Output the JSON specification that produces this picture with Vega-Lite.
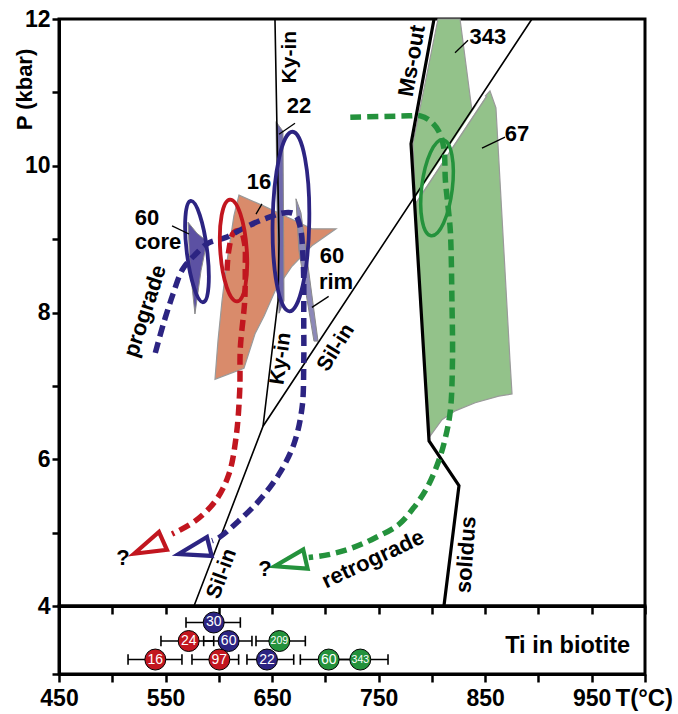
{
  "$schema": "https://vega.github.io/schema/vega-lite/v6.json",
  "padding": {"left": 11, "top": 6, "right": 2, "bottom": 2},
  "spacing": 0,
  "bounds": "flush",
  "datasets": {
    "greenPoly": [
      {"i":1,"T":805.7,"P":12},{"i":2,"T":826.4,"P":12},{"i":3,"T":837.6,"P":10.75},{"i":4,"T":854.5,"P":11.02},
      {"i":5,"T":860.1,"P":10.79},{"i":6,"T":873.3,"P":7.34},{"i":7,"T":875.2,"P":6.89},{"i":8,"T":862.7,"P":6.86},
      {"i":9,"T":840.7,"P":6.77},{"i":10,"T":821.9,"P":6.66},{"i":11,"T":809.5,"P":6.54},{"i":12,"T":798.5,"P":6.32},
      {"i":13,"T":788.8,"P":8.16},{"i":14,"T":782.2,"P":10.30}
    ],
    "edge67": [
      {"i":1,"T":782.2,"P":9.479},{"i":2,"T":849.3,"P":10.951}
    ],
    "edge67grey": [
      {"i":1,"T":784.6,"P":9.479},{"i":2,"T":851.7,"P":10.951}
    ],
    "orangePoly": [
      {"i":1,"T":618.9,"P":9.60},{"i":2,"T":642.4,"P":9.45},{"i":3,"T":668.7,"P":9.27},{"i":4,"T":687.4,"P":9.14},
      {"i":5,"T":710.0,"P":9.14},{"i":6,"T":687.4,"P":8.91},{"i":7,"T":668.7,"P":8.63},{"i":8,"T":652.7,"P":8.29},
      {"i":9,"T":642.4,"P":7.95},{"i":10,"T":634.0,"P":7.71},{"i":11,"T":623.6,"P":7.24},{"i":12,"T":596.4,"P":7.09},
      {"i":13,"T":599.2,"P":7.61},{"i":14,"T":603.0,"P":8.16},{"i":15,"T":607.7,"P":8.70},{"i":16,"T":614.2,"P":9.32}
    ],
    "purpleCore": [
      {"i":1,"T":571.1,"P":9.23},{"i":2,"T":579.5,"P":9.08},{"i":3,"T":588.9,"P":8.97},{"i":4,"T":583.3,"P":8.57},
      {"i":5,"T":577.6,"P":7.98},{"i":6,"T":572.9,"P":8.63}
    ],
    "purple22": [
      {"i":1,"T":653.7,"P":10.60},{"i":2,"T":660.2,"P":10.47},{"i":3,"T":661.2,"P":8.16},{"i":4,"T":656.5,"P":7.99},
      {"i":5,"T":654.6,"P":9.52}
    ],
    "purpleRim": [
      {"i":1,"T":672.4,"P":9.55},{"i":2,"T":677.1,"P":9.36},{"i":3,"T":693.1,"P":7.61},{"i":4,"T":689.3,"P":7.61},
      {"i":5,"T":675.2,"P":8.84}
    ],
    "lines": [
      {"line":"Ky-in","i":1,"T":652.7,"P":12},{"line":"Ky-in","i":2,"T":656.5,"P":8.97},{"line":"Ky-in","i":3,"T":655.6,"P":8.16},{"line":"Ky-in","i":4,"T":641.5,"P":6.45},
      {"line":"Sil-in","i":1,"T":576.7,"P":4},{"line":"Sil-in","i":2,"T":641.5,"P":6.45},{"line":"Sil-in","i":3,"T":893.9,"P":12},
      {"line":"Ms-out","i":1,"T":802.0,"P":12},{"line":"Ms-out","i":2,"T":780.4,"P":10.30},{"line":"Ms-out","i":3,"T":797.3,"P":6.25},{"line":"Ms-out","i":4,"T":825.4,"P":5.64},{"line":"Ms-out","i":5,"T":811.3,"P":4}
    ],
    "paths": [
      {"path":"16","i":1,"T":607.7,"P":8.57},{"path":"16","i":2,"T":609.3,"P":8.84},{"path":"16","i":3,"T":614.0,"P":9.09},{"path":"16","i":4,"T":620.2,"P":9.11},
      {"path":"16","i":5,"T":624.3,"P":8.93},{"path":"16","i":6,"T":624.8,"P":8.61},{"path":"16","i":7,"T":624.3,"P":8.16},{"path":"16","i":8,"T":620.2,"P":7.52},
      {"path":"16","i":9,"T":619.6,"P":6.93},{"path":"16","i":10,"T":616.1,"P":6.29},{"path":"16","i":11,"T":609.3,"P":5.79},{"path":"16","i":12,"T":596.7,"P":5.43},
      {"path":"16","i":13,"T":577.9,"P":5.16},{"path":"16","i":14,"T":556.1,"P":4.98},
      {"path":"60","i":1,"T":540.4,"P":7.45},{"path":"60","i":2,"T":548.3,"P":7.86},{"path":"60","i":3,"T":557.0,"P":8.25},{"path":"60","i":4,"T":566.1,"P":8.59},
      {"path":"60","i":5,"T":577.9,"P":8.79},{"path":"60","i":6,"T":590.5,"P":8.95},{"path":"60","i":7,"T":606.1,"P":9.02},{"path":"60","i":8,"T":624.8,"P":9.16},
      {"path":"60","i":9,"T":643.6,"P":9.28},{"path":"60","i":10,"T":662.4,"P":9.36},{"path":"60","i":11,"T":671.2,"P":9.34},{"path":"60","i":12,"T":676.5,"P":9.16},
      {"path":"60","i":13,"T":678.7,"P":8.84},{"path":"60","i":14,"T":679.7,"P":8.43},{"path":"60","i":15,"T":679.7,"P":7.93},{"path":"60","i":16,"T":679.7,"P":7.29},
      {"path":"60","i":17,"T":678.1,"P":6.70},{"path":"60","i":18,"T":670.3,"P":6.20},{"path":"60","i":19,"T":656.2,"P":5.79},{"path":"60","i":20,"T":637.4,"P":5.43},
      {"path":"60","i":21,"T":618.7,"P":5.16},{"path":"60","i":22,"T":599.9,"P":4.93},{"path":"60","i":23,"T":593.6,"P":4.89},
      {"path":"67","i":1,"T":723.4,"P":10.66},{"path":"67","i":2,"T":778.2,"P":10.68},{"path":"67","i":3,"T":789.1,"P":10.68},{"path":"67","i":4,"T":798.5,"P":10.61},
      {"path":"67","i":5,"T":806.4,"P":10.47},{"path":"67","i":6,"T":811.1,"P":10.25},{"path":"67","i":7,"T":812.7,"P":9.79},{"path":"67","i":8,"T":815.1,"P":9.45},
      {"path":"67","i":9,"T":817.3,"P":9.11},{"path":"67","i":10,"T":818.8,"P":8.16},{"path":"67","i":11,"T":819.3,"P":7.34},{"path":"67","i":12,"T":817.3,"P":6.66},
      {"path":"67","i":13,"T":812.6,"P":6.29},{"path":"67","i":14,"T":806.4,"P":5.98},{"path":"67","i":15,"T":795.4,"P":5.61},{"path":"67","i":16,"T":782.9,"P":5.34},
      {"path":"67","i":17,"T":768.8,"P":5.11},{"path":"67","i":18,"T":746.9,"P":4.93},{"path":"67","i":19,"T":725.0,"P":4.79},{"path":"67","i":20,"T":703.1,"P":4.70},
      {"path":"67","i":21,"T":684.4,"P":4.66}
    ],
    "leaders": [
      {"T":656.5,"P":10.43,"T2":671.5,"P2":10.58},
      {"T":634.9,"P":9.34,"T2":640.5,"P2":9.48},
      {"T":556.1,"P":9.18,"T2":572.0,"P2":9.07},
      {"T":687.4,"P":8.07,"T2":703.1,"P2":8.22},
      {"T":821.7,"P":11.54,"T2":833.9,"P2":11.71},
      {"T":847.0,"P":10.24,"T2":868.6,"P2":10.39}
    ],
    "labels": [
      {"label":"22","T":675.2,"P":10.81},
      {"label":"16","T":637.7,"P":9.78},
      {"label":"60","T":532.6,"P":9.29},
      {"label":"core","T":542.9,"P":8.96},
      {"label":"60","T":706.2,"P":8.77},
      {"label":"rim","T":710.0,"P":8.42},
      {"label":"343","T":852.6,"P":11.75},
      {"label":"67","T":879.8,"P":10.43},
      {"label":"?","T":510.1,"P":4.65},
      {"label":"?","T":643.3,"P":4.50}
    ],
    "ti": [
      {"s":"30","g":"blue","row":1,"T":595.2,"lo":569.2,"hi":620.2},
      {"s":"24","g":"red","row":2,"T":571.7,"lo":545.7,"hi":595.2},
      {"s":"60","g":"blue","row":2,"T":609.2,"lo":585.8,"hi":631.1},
      {"s":"209","g":"green","row":2,"T":656.8,"lo":634.9,"hi":681.2},
      {"s":"16","g":"red","row":3,"T":540.4,"lo":514.8,"hi":565.4},
      {"s":"97","g":"red","row":3,"T":600.5,"lo":574.8,"hi":618.6},
      {"s":"22","g":"blue","row":3,"T":645.2,"lo":626.4,"hi":670.3},
      {"s":"60","g":"green","row":3,"T":703.1,"lo":676.5,"hi":727.0},
      {"s":"343","g":"green","row":3,"T":732.8,"lo":708.0,"hi":758.8}
    ]
  },
  "vconcat": [
    {
      "width": 586,
      "height": 587,
      "encoding": {
        "x": {"field": "T", "type": "quantitative",
              "scale": {"domain": [450, 1000], "nice": false, "zero": false},
              "axis": {"values": [450,500,550,600,650,700,750,800,850,900,950,1000], "labels": false, "title": null, "tickSize": 8}},
        "y": {"field": "P", "type": "quantitative",
              "scale": {"domain": [4, 12], "nice": false, "zero": false},
              "axis": {"values": [4,5,6,7,8,9,10,11,12], "labelExpr": "datum.value % 2 === 0 ? datum.label : ''",
                       "title": "P (kbar)", "titleX": -35, "titleY": 70, "titleAngle": -90, "titleAlign": "center", "titleBaseline": "middle",
                       "tickSize": 7, "labelPadding": 2}}
      },
      "layer": [
        {"data": {"name": "greenPoly"}, "mark": {"type": "line", "interpolate": "linear-closed", "fill": "#93c28a", "stroke": "#9a9a9a", "strokeWidth": 1.2},
         "encoding": {"order": {"field": "i", "type": "quantitative"}}},
        {"data": {"name": "edge67"}, "mark": {"type": "line", "color": "white", "strokeWidth": 3},
         "encoding": {"order": {"field": "i", "type": "quantitative"}}},
        {"data": {"name": "edge67grey"}, "mark": {"type": "line", "color": "#9a9a9a", "strokeWidth": 1.3},
         "encoding": {"order": {"field": "i", "type": "quantitative"}}},
        {"data": {"name": "orangePoly"}, "mark": {"type": "line", "interpolate": "linear-closed", "fill": "#d98b6b", "stroke": "#9a9a9a", "strokeWidth": 1.2},
         "encoding": {"order": {"field": "i", "type": "quantitative"}}},
        {"data": {"name": "purpleCore"}, "mark": {"type": "line", "interpolate": "linear-closed", "fill": "#5c51a3", "stroke": "#8a8a8a", "strokeWidth": 1},
         "encoding": {"order": {"field": "i", "type": "quantitative"}}},
        {"data": {"name": "purple22"}, "mark": {"type": "line", "interpolate": "linear-closed", "fill": "#6f69ab", "stroke": "#8a8a8a", "strokeWidth": 1},
         "encoding": {"order": {"field": "i", "type": "quantitative"}}},
        {"data": {"name": "purpleRim"}, "mark": {"type": "line", "interpolate": "linear-closed", "fill": "#8c88b8", "stroke": "#8a8a8a", "strokeWidth": 1},
         "encoding": {"order": {"field": "i", "type": "quantitative"}}},
        {"data": {"name": "lines"}, "transform": [{"filter": "datum.line !== 'Ms-out'"}],
         "mark": {"type": "line", "color": "black", "strokeWidth": 1.6},
         "encoding": {"detail": {"field": "line"}, "order": {"field": "i", "type": "quantitative"}}},
        {"data": {"name": "lines"}, "transform": [{"filter": "datum.line === 'Ms-out'"}],
         "mark": {"type": "line", "color": "black", "strokeWidth": 3.2, "strokeJoin": "miter"},
         "encoding": {"detail": {"field": "line"}, "order": {"field": "i", "type": "quantitative"}}},
        {"data": {"name": "paths"},
         "mark": {"type": "line", "interpolate": "catmull-rom", "strokeWidth": 5.5, "strokeDash": [11, 6], "strokeCap": "butt"},
         "encoding": {"color": {"field": "path", "type": "nominal", "scale": {"domain": ["16", "60", "67"], "range": ["#c2161f", "#2c2482", "#24923c"]}, "legend": null},
                      "order": {"field": "i", "type": "quantitative"}}},
        {"data": {"values": [{"T": 579.5, "P": 8.83}]},
         "mark": {"type": "point", "filled": false, "shape": "M0,-1C0.11,-1 0.2,-0.552 0.2,0C0.2,0.552 0.11,1 0,1C-0.11,1 -0.2,0.552 -0.2,0C-0.2,-0.552 -0.11,-1 0,-1Z",
                  "size": 10404, "angle": -7, "stroke": "#2c2482", "strokeWidth": 3.8, "opacity": 1}},
        {"data": {"values": [{"T": 613.8, "P": 8.845}]},
         "mark": {"type": "point", "filled": false, "shape": "M0,-1C0.1435,-1 0.26,-0.552 0.26,0C0.26,0.552 0.1435,1 0,1C-0.1435,1 -0.26,0.552 -0.26,0C-0.26,-0.552 -0.1435,-1 0,-1Z",
                  "size": 10404, "angle": -4, "stroke": "#c2161f", "strokeWidth": 3.8, "opacity": 1}},
        {"data": {"values": [{"T": 667.7, "P": 9.24}]},
         "mark": {"type": "point", "filled": false, "shape": "M0,-1C0.1126,-1 0.204,-0.552 0.204,0C0.204,0.552 0.1126,1 0,1C-0.1126,1 -0.204,0.552 -0.204,0C-0.204,-0.552 -0.1126,-1 0,-1Z",
                  "size": 32256, "angle": 1, "stroke": "#2c2482", "strokeWidth": 3.8, "opacity": 1}},
        {"data": {"values": [{"T": 804.8, "P": 9.70}]},
         "mark": {"type": "point", "filled": false, "shape": "M0,-1C0.175,-1 0.317,-0.552 0.317,0C0.317,0.552 0.175,1 0,1C-0.175,1 -0.317,0.552 -0.317,0C-0.317,-0.552 -0.175,-1 0,-1Z",
                  "size": 9332, "angle": 7, "stroke": "#24923c", "strokeWidth": 3.5, "opacity": 1}},
        {"data": {"values": [{"T": 534.0, "P": 4.80}]},
         "mark": {"type": "point", "shape": "M-1,0L1,-0.62L1,0.62Z", "size": 1000, "angle": -24, "fill": "white", "fillOpacity": 1, "stroke": "#c2161f", "strokeWidth": 4.2, "strokeJoin": "miter", "opacity": 1}},
        {"data": {"values": [{"T": 576.7, "P": 4.76}]},
         "mark": {"type": "point", "shape": "M-1,0L1,-0.62L1,0.62Z", "size": 1000, "angle": -14, "fill": "white", "fillOpacity": 1, "stroke": "#2c2482", "strokeWidth": 4.2, "strokeJoin": "miter", "opacity": 1}},
        {"data": {"values": [{"T": 666.8, "P": 4.59}]},
         "mark": {"type": "point", "shape": "M-1,0L1,-0.62L1,0.62Z", "size": 1000, "angle": -13, "fill": "white", "fillOpacity": 1, "stroke": "#24923c", "strokeWidth": 4.2, "strokeJoin": "miter", "opacity": 1}},
        {"data": {"name": "leaders"}, "mark": {"type": "rule", "color": "black", "strokeWidth": 1.3},
         "encoding": {"x2": {"field": "T2"}, "y2": {"field": "P2"}}},
        {"data": {"name": "labels"}, "mark": {"type": "text", "fontSize": 22, "fontWeight": "bold", "color": "black", "baseline": "middle", "align": "center"},
         "encoding": {"text": {"field": "label"}}},
        {"data": {"values": [{"label": "Ky-in", "T": 666.8, "P": 11.48}]}, "mark": {"type": "text", "angle": -90, "fontSize": 21, "fontWeight": "bold", "color": "black", "baseline": "middle"}, "encoding": {"text": {"field": "label"}}},
        {"data": {"values": [{"label": "prograde", "T": 530.7, "P": 8.02}]}, "mark": {"type": "text", "angle": -72, "fontSize": 22, "fontWeight": "bold", "color": "black", "baseline": "middle"}, "encoding": {"text": {"field": "label"}}},
        {"data": {"values": [{"label": "Ky-in", "T": 658.4, "P": 7.37}]}, "mark": {"type": "text", "angle": -82, "fontSize": 21, "fontWeight": "bold", "color": "black", "baseline": "middle"}, "encoding": {"text": {"field": "label"}}},
        {"data": {"values": [{"label": "Sil-in", "T": 710.0, "P": 7.52}]}, "mark": {"type": "text", "angle": -58, "fontSize": 21, "fontWeight": "bold", "color": "black", "baseline": "middle"}, "encoding": {"text": {"field": "label"}}},
        {"data": {"values": [{"label": "Sil-in", "T": 603.0, "P": 4.44}]}, "mark": {"type": "text", "angle": -70, "fontSize": 21, "fontWeight": "bold", "color": "black", "baseline": "middle"}, "encoding": {"text": {"field": "label"}}},
        {"data": {"values": [{"label": "Ms-out", "T": 781.3, "P": 11.43}]}, "mark": {"type": "text", "angle": -80, "fontSize": 22, "fontWeight": "bold", "color": "black", "baseline": "middle"}, "encoding": {"text": {"field": "label"}}},
        {"data": {"values": [{"label": "retrograde", "T": 744.7, "P": 4.64}]}, "mark": {"type": "text", "angle": -25, "fontSize": 22, "fontWeight": "bold", "color": "black", "baseline": "middle"}, "encoding": {"text": {"field": "label"}}},
        {"data": {"values": [{"label": "solidus", "T": 832.0, "P": 4.70}]}, "mark": {"type": "text", "angle": -86, "fontSize": 22, "fontWeight": "bold", "color": "black", "baseline": "middle"}, "encoding": {"text": {"field": "label"}}}
      ]
    },
    {
      "width": 586,
      "height": 68,
      "data": {"name": "ti"},
      "encoding": {
        "x": {"field": "T", "type": "quantitative",
              "scale": {"domain": [450, 1000], "nice": false, "zero": false},
              "axis": {"values": [450,500,550,600,650,700,750,800,850,900,950,1000],
                       "labelExpr": "datum.value % 100 === 50 ? datum.label : ''",
                       "title": "T(°C)", "titleX": 556, "titleY": 31, "titleAlign": "left", "titleBaseline": "alphabetic", "titleFontSize": 24,
                       "tickSize": 8, "labelPadding": 5, "labelFlush": false, "labelOverlap": false}},
        "y": {"field": "row", "type": "quantitative",
              "scale": {"domain": [0.11, 3.78], "reverse": true, "nice": false, "zero": false},
              "axis": {"values": [3.78], "labels": false, "title": null, "tickSize": 7}}
      },
      "layer": [
        {"mark": {"type": "rule", "color": "black", "strokeWidth": 1.5}, "encoding": {"x": {"field": "lo"}, "x2": {"field": "hi"}}},
        {"mark": {"type": "point", "shape": "M0,-1L0,1", "size": 110, "filled": false, "stroke": "black", "strokeWidth": 1.6, "opacity": 1}, "encoding": {"x": {"field": "lo"}}},
        {"mark": {"type": "point", "shape": "M0,-1L0,1", "size": 110, "filled": false, "stroke": "black", "strokeWidth": 1.6, "opacity": 1}, "encoding": {"x": {"field": "hi"}}},
        {"mark": {"type": "point", "shape": "circle", "size": 440, "filled": true, "stroke": "black", "strokeWidth": 1, "opacity": 1},
         "encoding": {"fill": {"field": "g", "type": "nominal", "scale": {"domain": ["red", "blue", "green"], "range": ["#c2161f", "#2c2482", "#24923c"]}, "legend": null}}},
        {"transform": [{"filter": "length(datum.s) < 3"}],
         "mark": {"type": "text", "fontSize": 14, "fontWeight": "normal", "color": "white", "baseline": "middle", "align": "center"},
         "encoding": {"text": {"field": "s"}}},
        {"transform": [{"filter": "length(datum.s) >= 3"}],
         "mark": {"type": "text", "fontSize": 10.5, "fontWeight": "normal", "color": "white", "baseline": "middle", "align": "center"},
         "encoding": {"text": {"field": "s"}}},
        {"data": {"values": [{"label": "Ti in biotite", "T": 986, "row": 2.27}]},
         "mark": {"type": "text", "fontSize": 23.5, "fontWeight": "bold", "color": "black", "baseline": "middle", "align": "right"},
         "encoding": {"text": {"field": "label"}}}
      ]
    }
  ],
  "config": {
    "font": "Liberation Sans",
    "view": {"stroke": "black", "strokeWidth": 3},
    "axis": {"domainColor": "black", "domainWidth": 3, "tickColor": "black", "tickWidth": 2.5, "grid": false,
             "labelColor": "black", "labelFont": "Liberation Sans", "labelFontWeight": "bold", "labelFontSize": 23,
             "titleColor": "black", "titleFont": "Liberation Sans", "titleFontWeight": "bold", "titleFontSize": 22}
  }
}
